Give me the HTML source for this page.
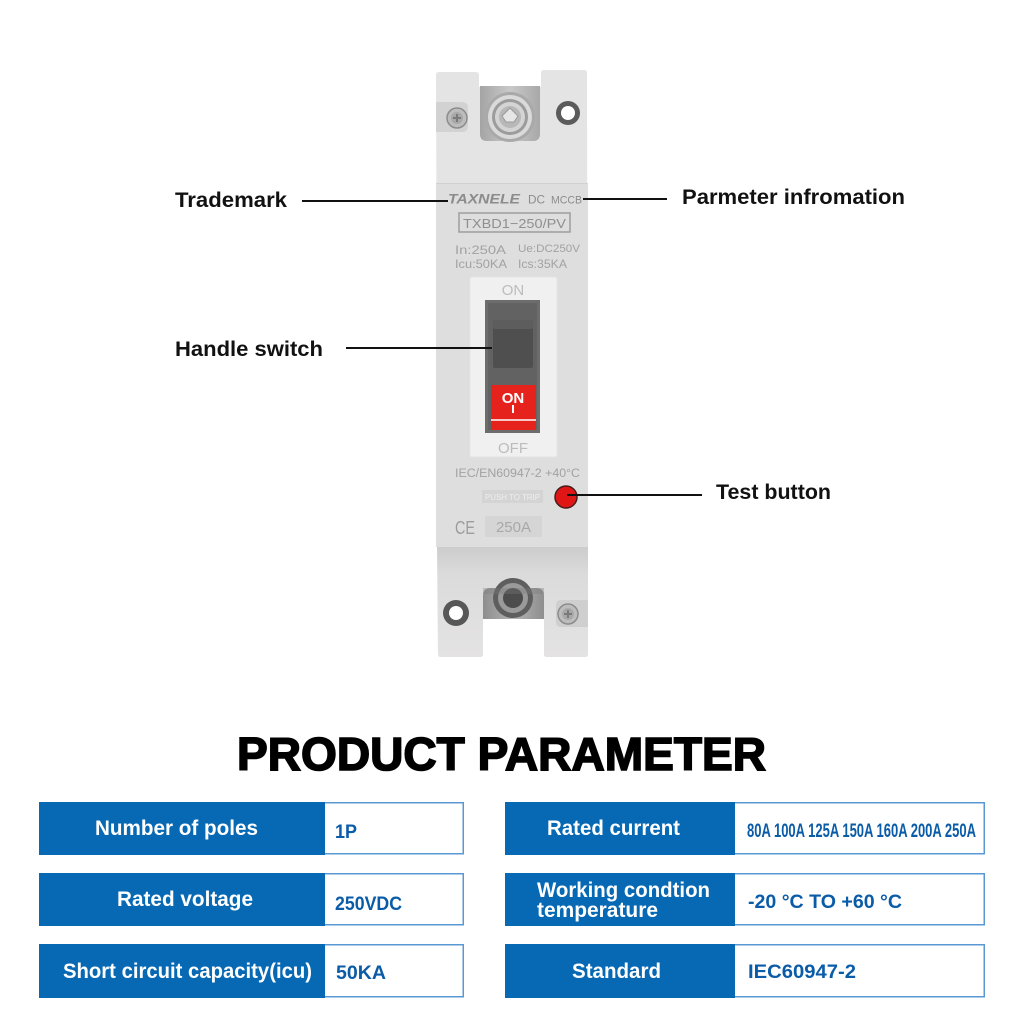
<!DOCTYPE html>
<html>
<head>
<meta charset="utf-8">
<style>
  html,body{margin:0;padding:0;background:#ffffff;}
  body{width:1024px;height:1024px;overflow:hidden;}
  svg{display:block;}
  .lbl{font-family:"Liberation Sans",sans-serif;font-weight:700;fill:#111;font-size:21px;}
  .th{font-family:"Liberation Sans",sans-serif;font-weight:700;fill:#fff;font-size:21px;}
  .tv{font-family:"Liberation Sans",sans-serif;font-weight:700;fill:#0b5ca8;font-size:19px;}
  .g{font-family:"Liberation Sans",sans-serif;fill:#a2a2a2;}
</style>
</head>
<body>
<svg width="1024" height="1024" viewBox="0 0 1024 1024" xmlns="http://www.w3.org/2000/svg">
  <defs>
    <linearGradient id="plate" x1="0" y1="0" x2="1" y2="0">
      <stop offset="0" stop-color="#a4a4a4"/>
      <stop offset="0.5" stop-color="#c9c9c9"/>
      <stop offset="1" stop-color="#a8a8a8"/>
    </linearGradient>
    <linearGradient id="bot" x1="0" y1="0" x2="0" y2="1">
      <stop offset="0" stop-color="#cdcccc"/>
      <stop offset="0.25" stop-color="#dcdbdb"/>
      <stop offset="1" stop-color="#e4e3e3"/>
    </linearGradient>
    <linearGradient id="botmetal" x1="0" y1="0" x2="1" y2="0">
      <stop offset="0" stop-color="#8e8e8e"/>
      <stop offset="0.5" stop-color="#b4b4b4"/>
      <stop offset="1" stop-color="#8e8e8e"/>
    </linearGradient>
  </defs>

  <!-- ===== Breaker body ===== -->
  <path d="M436,75 Q436,72 439,72 L476,72 Q479,72 479,75 L479,87 L541,87 L541,73 Q541,70 544,70 L584,70 Q587,70 587,73 L588,654 Q588,657 585,657 L547,657 Q544,657 544,654 L544,619 L483,619 L483,654 Q483,657 480,657 L441,657 Q438,657 438,654 Z" fill="#e5e4e4"/>
  <!-- front panel -->
  <rect x="436" y="183" width="152" height="364" fill="#dfdede"/>
  <line x1="436" y1="183.5" x2="588" y2="183.5" stroke="#d2d1d1" stroke-width="1"/>
  <!-- bottom section -->
  <path d="M437,547 L588,547 L588,654 Q588,657 585,657 L547,657 Q544,657 544,654 L544,619 L483,619 L483,654 Q483,657 480,657 L441,657 Q438,657 438,654 Z" fill="url(#bot)"/>

  <!-- top metal terminal -->
  <path d="M480,86 L540,86 L540,134 Q540,141 533,141 L487,141 Q480,141 480,134 Z" fill="url(#plate)"/>
  <circle cx="510" cy="117" r="25" fill="#a9a9a9"/>
  <circle cx="510" cy="117" r="22" fill="#dadada"/>
  <circle cx="510" cy="117" r="18" fill="#9c9c9c"/>
  <circle cx="510" cy="117" r="15" fill="#d4d4d4"/>
  <circle cx="510" cy="117" r="11" fill="#b8b8b8"/>
  <path d="M502,116 L510,108 L518,116 L514,122 L506,122 Z" fill="#e6e6e6" stroke="#9a9a9a" stroke-width="1"/>

  <!-- top left screw area -->
  <path d="M436,102 L462,102 Q468,102 468,108 L468,126 Q468,132 462,132 L436,132 Z" fill="#d3d2d2"/>
  <circle cx="457" cy="118" r="10" fill="#bdbdbd" stroke="#8c8c8c" stroke-width="1.5"/>
  <circle cx="457" cy="118" r="6" fill="#a8a8a8"/>
  <path d="M453,118 L461,118 M457,114 L457,122" stroke="#7a7a7a" stroke-width="2"/>
  <!-- top right ring -->
  <circle cx="568" cy="113" r="12" fill="#5b5b5b"/>
  <circle cx="568" cy="113" r="7" fill="#ffffff"/>

  <!-- bottom metal -->
  <path d="M483,619 L483,596 Q483,588 491,588 L536,588 Q544,588 544,596 L544,619 Z" fill="url(#botmetal)"/>
  <circle cx="513" cy="598" r="20" fill="#5e5e5e"/>
  <circle cx="513" cy="598" r="15" fill="#9a9a9a"/>
  <circle cx="513" cy="598" r="10" fill="#4c4c4c"/>
  <rect x="483" y="588" width="61" height="6" fill="#7a7a7a" opacity="0.35"/>
  <rect x="483" y="619" width="61" height="38" fill="#ffffff"/>
  <!-- bottom left ring -->
  <circle cx="456" cy="613" r="13" fill="#575757"/>
  <circle cx="456" cy="613" r="7" fill="#ffffff"/>
  <!-- bottom right screw -->
  <path d="M588,600 L561,600 Q556,600 556,605 L556,622 Q556,627 561,627 L588,627 Z" fill="#d0cfcf"/>
  <circle cx="568" cy="614" r="10" fill="#bdbdbd" stroke="#8c8c8c" stroke-width="1.5"/>
  <circle cx="568" cy="614" r="6" fill="#a8a8a8"/>
  <path d="M564,614 L572,614 M568,610 L568,618" stroke="#7a7a7a" stroke-width="2"/>

  <!-- labels on front -->
  <text x="448" y="203.5" textLength="72" lengthAdjust="spacingAndGlyphs" font-family="Liberation Sans, sans-serif" font-weight="700" font-style="italic" font-size="14" fill="#8c8c8c">TAXNELE</text>
  <text x="528" y="203.5" font-family="Liberation Sans, sans-serif" font-size="12" fill="#8c8c8c" textLength="17" lengthAdjust="spacingAndGlyphs">DC</text>
  <text x="551" y="203.5" font-family="Liberation Sans, sans-serif" font-size="11" fill="#8c8c8c" textLength="31" lengthAdjust="spacingAndGlyphs">MCCB</text>
  <rect x="459" y="213" width="111" height="19" fill="none" stroke="#9d9d9d" stroke-width="1.5"/>
  <text x="463" y="228" textLength="103" lengthAdjust="spacingAndGlyphs" font-family="Liberation Sans, sans-serif" font-size="13" fill="#8f8f8f">TXBD1−250/PV</text>
  <text class="g" x="455" y="254" font-size="12" textLength="51" lengthAdjust="spacingAndGlyphs">In:250A</text>
  <text class="g" x="518" y="252" font-size="11" textLength="62" lengthAdjust="spacingAndGlyphs">Ue:DC250V</text>
  <text class="g" x="455" y="268" font-size="12" textLength="52" lengthAdjust="spacingAndGlyphs">Icu:50KA</text>
  <text class="g" x="518" y="268" font-size="12" textLength="49" lengthAdjust="spacingAndGlyphs">Ics:35KA</text>

  <!-- window frame -->
  <rect x="470" y="277" width="87" height="180" rx="2" fill="#f0f0f0" stroke="#e4e4e4" stroke-width="1"/>
  <text x="513" y="295" text-anchor="middle" font-family="Liberation Sans, sans-serif" font-size="15" fill="#bcbcbc">ON</text>
  <text x="513" y="453" text-anchor="middle" font-family="Liberation Sans, sans-serif" font-size="15" fill="#bcbcbc">OFF</text>
  <rect x="485" y="300" width="55" height="133" fill="#6c6c6c"/>
  <rect x="488" y="303" width="49" height="127" fill="#626262"/>
  <rect x="493" y="320" width="40" height="48" rx="2" fill="#4f4f4f"/>
  <rect x="493" y="320" width="40" height="9" rx="2" fill="#5d5d5d"/>
  <rect x="491" y="385" width="45" height="45" fill="#e5221b"/>
  <text x="513" y="403" text-anchor="middle" font-family="Liberation Sans, sans-serif" font-weight="700" font-size="15" fill="#ffffff">ON</text>
  <rect x="512" y="405" width="2" height="8" fill="#ffffff"/>
  <line x1="491" y1="420" x2="536" y2="420" stroke="#ffffff" stroke-width="1.5"/>

  <text class="g" x="455" y="477" font-size="11.5" textLength="125" lengthAdjust="spacingAndGlyphs">IEC/EN60947-2  +40°C</text>
  <rect x="482" y="490" width="61" height="13" fill="#d5d4d4"/>
  <text x="512.5" y="500" text-anchor="middle" font-family="Liberation Sans, sans-serif" font-size="8" fill="#eeeeee" textLength="55" lengthAdjust="spacingAndGlyphs">PUSH TO TRIP</text>
  <circle cx="566" cy="497" r="11" fill="#e01616" stroke="#4a1c1c" stroke-width="1.5"/>
  <text x="455" y="534" font-family="Liberation Sans, sans-serif" font-size="18" fill="#9c9c9c" textLength="20" lengthAdjust="spacingAndGlyphs">CE</text>
  <rect x="485" y="516" width="57" height="21" fill="#d6d5d5"/>
  <text x="513.5" y="532" text-anchor="middle" font-family="Liberation Sans, sans-serif" font-size="15" fill="#a8a8a8">250A</text>

  <!-- ===== Callouts ===== -->
  <line x1="302" y1="201" x2="448" y2="201" stroke="#111" stroke-width="2"/>
  <line x1="346" y1="348" x2="492" y2="348" stroke="#111" stroke-width="2"/>
  <line x1="583" y1="199" x2="667" y2="199" stroke="#111" stroke-width="2"/>
  <line x1="567" y1="495" x2="702" y2="495" stroke="#111" stroke-width="2"/>
  <text class="lbl" x="175" y="207" textLength="112" lengthAdjust="spacingAndGlyphs">Trademark</text>
  <text class="lbl" x="175" y="356" textLength="148" lengthAdjust="spacingAndGlyphs">Handle switch</text>
  <text class="lbl" x="682" y="204" textLength="223" lengthAdjust="spacingAndGlyphs">Parmeter infromation</text>
  <text class="lbl" x="716" y="499" textLength="115" lengthAdjust="spacingAndGlyphs">Test button</text>

  <!-- ===== Title ===== -->
  <text x="237" y="770" textLength="529" lengthAdjust="spacingAndGlyphs" font-family="Liberation Sans, sans-serif" font-weight="900" font-size="46" fill="#000" stroke="#000" stroke-width="1.6">PRODUCT PARAMETER</text>

  <!-- ===== Table left ===== -->
  <g stroke="#5a98d3" stroke-width="1.5" fill="#ffffff">
    <rect x="39.75" y="802.75" width="423.5" height="51"/>
    <rect x="39.75" y="873.75" width="423.5" height="51"/>
    <rect x="39.75" y="944.75" width="423.5" height="52"/>
    <rect x="505.75" y="802.75" width="478.5" height="51"/>
    <rect x="505.75" y="873.75" width="478.5" height="51"/>
    <rect x="505.75" y="944.75" width="478.5" height="52"/>
  </g>
  <g fill="#0768b4">
    <rect x="39" y="802" width="286" height="53"/>
    <rect x="39" y="873" width="286" height="53"/>
    <rect x="39" y="944" width="286" height="54"/>
    <rect x="505" y="802" width="230" height="53"/>
    <rect x="505" y="873" width="230" height="53"/>
    <rect x="505" y="944" width="230" height="54"/>
  </g>

  <text class="th" x="95" y="835" textLength="163" lengthAdjust="spacingAndGlyphs">Number of poles</text>
  <text class="th" x="117" y="906" textLength="136" lengthAdjust="spacingAndGlyphs">Rated voltage</text>
  <text class="th" x="63" y="978" textLength="249" lengthAdjust="spacingAndGlyphs">Short circuit capacity(icu)</text>
  <text class="tv" x="335" y="838" textLength="22" lengthAdjust="spacingAndGlyphs">1P</text>
  <text class="tv" x="335" y="910" textLength="67" lengthAdjust="spacingAndGlyphs">250VDC</text>
  <text class="tv" x="336" y="979" textLength="50" lengthAdjust="spacingAndGlyphs">50KA</text>

  <text class="th" x="547" y="835" textLength="133" lengthAdjust="spacingAndGlyphs">Rated current</text>
  <text class="th" x="537" y="897" textLength="173" lengthAdjust="spacingAndGlyphs">Working condtion</text>
  <text class="th" x="537" y="917" textLength="121" lengthAdjust="spacingAndGlyphs">temperature</text>
  <text class="th" x="572" y="978" textLength="89" lengthAdjust="spacingAndGlyphs">Standard</text>
  <text class="tv" x="747" y="837" font-size="17" font-weight="400" textLength="229" lengthAdjust="spacingAndGlyphs">80A 100A  125A 150A 160A 200A 250A</text>
  <text class="tv" x="748" y="908" textLength="154" lengthAdjust="spacingAndGlyphs">-20 °C TO +60 °C</text>
  <text class="tv" x="748" y="978" textLength="108" lengthAdjust="spacingAndGlyphs">IEC60947-2</text>
</svg>
</body>
</html>
